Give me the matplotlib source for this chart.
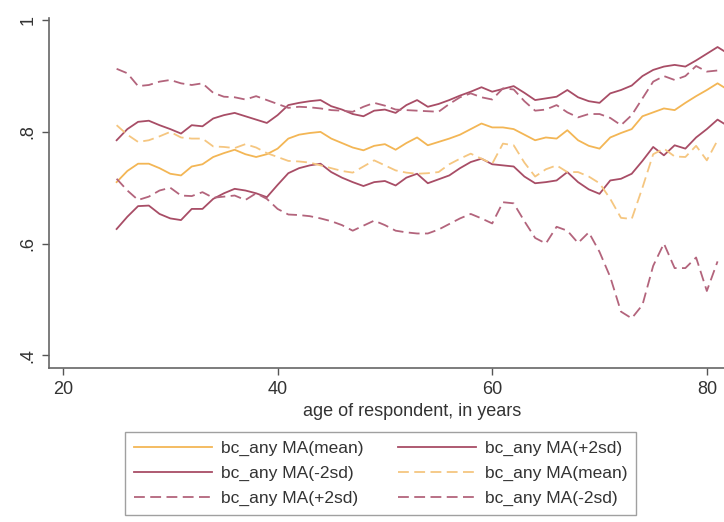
# Moving averages of bc_any by age, mean and +/-2sd bands for two specifications
import numpy as np
import matplotlib
matplotlib.use("Agg")
import matplotlib.pyplot as plt

plt.rcParams['font.family'] = ['Liberation Sans', 'DejaVu Sans']

ages = list(range(25, 83))

# solid lines (first specification)
mean_solid = [0.710, 0.730, 0.743, 0.743, 0.735, 0.725, 0.722, 0.738, 0.742, 0.755,
              0.762, 0.768, 0.760, 0.755, 0.760, 0.770, 0.788, 0.795, 0.798, 0.800,
              0.788, 0.780, 0.772, 0.767, 0.775, 0.778, 0.768, 0.780, 0.790, 0.776,
              0.782, 0.788, 0.795, 0.805, 0.815, 0.808, 0.808, 0.805, 0.795, 0.785,
              0.790, 0.788, 0.803, 0.785, 0.775, 0.770, 0.790, 0.798, 0.805, 0.828,
              0.835, 0.842, 0.839, 0.852, 0.864, 0.875, 0.887, 0.875]
hi_solid = [0.785, 0.805, 0.818, 0.820, 0.812, 0.805, 0.797, 0.812, 0.810, 0.824,
            0.830, 0.834, 0.828, 0.822, 0.816, 0.830, 0.848, 0.852, 0.855, 0.857,
            0.846, 0.840, 0.832, 0.828, 0.838, 0.840, 0.834, 0.848, 0.857, 0.845,
            0.850, 0.857, 0.865, 0.872, 0.880, 0.872, 0.877, 0.882, 0.870, 0.857,
            0.860, 0.863, 0.875, 0.862, 0.855, 0.852, 0.869, 0.875, 0.883, 0.900,
            0.911, 0.917, 0.920, 0.917, 0.928, 0.940, 0.952, 0.940]
lo_solid = [0.626, 0.648, 0.667, 0.668, 0.653, 0.645, 0.642, 0.662, 0.662, 0.680,
            0.690, 0.698, 0.695, 0.690, 0.683, 0.705, 0.726, 0.735, 0.740, 0.743,
            0.728, 0.718, 0.710, 0.703, 0.710, 0.712, 0.704, 0.718, 0.725, 0.708,
            0.715, 0.722, 0.735, 0.746, 0.752, 0.742, 0.740, 0.738, 0.720, 0.708,
            0.710, 0.713, 0.728, 0.710, 0.697, 0.689, 0.713, 0.716, 0.725, 0.748,
            0.773, 0.758, 0.776, 0.770, 0.790, 0.805, 0.822, 0.810]

# dashed lines (second specification), end at age 81
mean_dash = [0.812, 0.795, 0.782, 0.785, 0.792, 0.800, 0.790, 0.788, 0.788, 0.774,
             0.773, 0.771, 0.778, 0.772, 0.762, 0.755, 0.748, 0.747, 0.745, 0.740,
             0.735, 0.730, 0.727, 0.738, 0.749, 0.740, 0.731, 0.727, 0.725, 0.726,
             0.728, 0.742, 0.752, 0.761, 0.752, 0.743, 0.779, 0.776, 0.745, 0.720,
             0.733, 0.740, 0.728, 0.728, 0.720, 0.708, 0.680, 0.646, 0.644, 0.700,
             0.760, 0.770, 0.756, 0.755, 0.775, 0.749, 0.785, np.nan]
hi_dash = [0.913, 0.905, 0.882, 0.884, 0.890, 0.893, 0.887, 0.884, 0.887, 0.870,
           0.863, 0.862, 0.858, 0.864, 0.857, 0.850, 0.843, 0.845, 0.844, 0.842,
           0.839, 0.838, 0.836, 0.845, 0.852, 0.847, 0.840, 0.839, 0.838, 0.837,
           0.836, 0.850, 0.862, 0.869, 0.862, 0.858, 0.878, 0.876, 0.855, 0.838,
           0.840, 0.848, 0.835, 0.826, 0.832, 0.832, 0.825, 0.812, 0.830, 0.860,
           0.890, 0.900, 0.893, 0.900, 0.918, 0.908, 0.910, np.nan]
lo_dash = [0.716, 0.695, 0.678, 0.684, 0.695, 0.700, 0.686, 0.685, 0.692, 0.682,
           0.684, 0.686, 0.678, 0.690, 0.680, 0.662, 0.652, 0.651, 0.649, 0.645,
           0.640, 0.633, 0.623, 0.632, 0.641, 0.633, 0.623, 0.620, 0.618, 0.618,
           0.625, 0.635, 0.645, 0.653, 0.645, 0.636, 0.674, 0.672, 0.640, 0.610,
           0.600, 0.630, 0.623, 0.601, 0.620, 0.585, 0.540, 0.478, 0.466, 0.490,
           0.560, 0.600, 0.556, 0.556, 0.575, 0.515, 0.568, np.nan]

orange = "#f3b655"
maroon = "#a84d66"
orange_d = "#f5c680"
maroon_d = "#b3647c"

fig = plt.figure(figsize=(7.24, 5.22), dpi=100)
ax = fig.add_axes([0.0677, 0.295, 0.9323, 0.6705])

dash = (6, 3)
lw = 1.3
l1, = ax.plot(ages, mean_solid, color=orange, lw=lw, label="bc_any MA(mean)")
l2, = ax.plot(ages, hi_solid, color=maroon, lw=lw, label="bc_any MA(+2sd)")
l3, = ax.plot(ages, lo_solid, color=maroon, lw=lw, label="bc_any MA(-2sd)")
l4, = ax.plot(ages, mean_dash, color=orange_d, lw=lw, dashes=dash, label="bc_any MA(mean)")
l5, = ax.plot(ages, hi_dash, color=maroon_d, lw=lw, dashes=dash, label="bc_any MA(+2sd)")
l6, = ax.plot(ages, lo_dash, color=maroon_d, lw=lw, dashes=dash, label="bc_any MA(-2sd)")

ax.set_xlim(18.7, 81.6)
ax.set_ylim(0.377, 1.004)
ax.set_xticks([20, 40, 60, 80])
ax.set_yticks([0.4, 0.6, 0.8, 1.0])
ax.set_yticklabels([".4", ".6", ".8", "1"], rotation=90, va="center")
ax.tick_params(axis="both", labelsize=13, length=5, width=1, color="#555555",
               labelcolor="#333333", pad=4)

for side in ["top", "right"]:
    ax.spines[side].set_visible(False)
for side in ["left", "bottom"]:
    ax.spines[side].set_color("#666666")
    ax.spines[side].set_linewidth(1.2)

ax.set_xlabel("age of respondent, in years", fontsize=13, color="#333333")
ax.xaxis.set_label_coords(0.538, -0.1)

# stata fills the legend row by row, matplotlib column by column
handles = [l1, l3, l5, l2, l4, l6]
leg = fig.legend(handles=handles, labels=[h.get_label() for h in handles],
                 ncol=2, loc="upper left", bbox_to_anchor=(0.1727, 0.1724),
                 borderaxespad=0, fontsize=12.5, frameon=True, fancybox=False,
                 edgecolor="#888888", handlelength=4.5, handletextpad=0.5,
                 columnspacing=2.0, labelspacing=0.56, borderpad=0.5,
                 labelcolor="#333333")
leg.get_frame().set_linewidth(1.0)

fig.savefig("out.png", dpi=100)
